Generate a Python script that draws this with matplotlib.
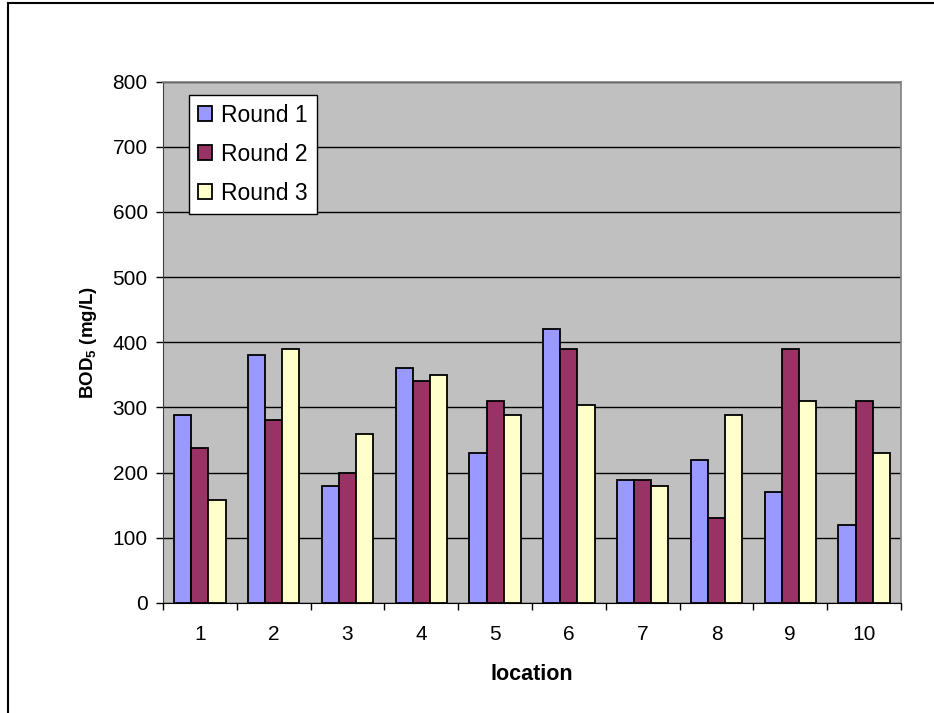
import matplotlib
matplotlib.use("Agg")
import matplotlib.pyplot as plt
import numpy as np
from matplotlib.lines import Line2D

locations = ["1", "2", "3", "4", "5", "6", "7", "8", "9", "10"]
series_names = ["Round 1", "Round 2", "Round 3"]
round1 = [288, 380, 180, 360, 230, 420, 188, 220, 170, 120]
round2 = [238, 280, 200, 340, 310, 390, 188, 130, 390, 310]
round3 = [158, 390, 260, 350, 288, 303, 180, 288, 310, 230]
colors = ["#9999FF", "#993366", "#FFFFCC"]
yticks = [0, 100, 200, 300, 400, 500, 600, 700, 800]

plt.rcParams['font.family'] = ['Liberation Sans', 'DejaVu Sans']

W, H = 934, 713
fig = plt.figure(figsize=(W / 100, H / 100), dpi=100)
ax = fig.add_axes([163 / W, 1 - 603 / H, (901 - 163) / W, (603 - 81.5) / H])
ax.set_facecolor("#C0C0C0")

x = np.arange(len(locations))
bw = 0.232
for i, (vals, name) in enumerate(zip([round1, round2, round3], series_names)):
    ax.bar(x + (i - 1) * bw, vals, width=bw, color=colors[i], edgecolor="black",
           linewidth=1.3, label=name, zorder=3)

ax.set_xlim(-0.5, len(locations) - 0.5)
ax.set_ylim(0, 800)
ax.set_yticks(yticks)
ax.set_yticklabels([str(v) for v in yticks], fontsize=15)
ax.yaxis.grid(True, color="black", linewidth=1.0, zorder=1)
ax.set_axisbelow(True)

# x ticks: labels at centres, tick marks at boundaries
ax.set_xticks(x)
ax.set_xticklabels(locations, fontsize=15)
ax.tick_params(axis="x", which="major", length=0, pad=16)
ax.set_xticks(np.arange(-0.5, len(locations), 1.0), minor=True)
ax.tick_params(axis="x", which="minor", length=5, width=1, direction="out", color="black")
ax.tick_params(axis="y", length=5, width=1, direction="out", pad=6)

for side in ["top", "right"]:
    ax.spines[side].set_color("#808080")
    ax.spines[side].set_linewidth(1.2)
ax.spines["left"].set_color("#404040")
ax.spines["bottom"].set_color("black")

ax.set_ylabel("BOD$_\\mathregular{5}$ (mg/L)", fontsize=13.5, fontweight="bold", labelpad=10)
ax.set_xlabel("location", fontsize=15.5, fontweight="bold", labelpad=14)

leg = ax.legend(loc="upper left", bbox_to_anchor=(0.035, 0.975), fontsize=16.5,
                frameon=True, fancybox=False, edgecolor="black", framealpha=1,
                handlelength=0.6, handleheight=0.6, handletextpad=0.4,
                labelspacing=0.7, borderpad=0.4, borderaxespad=0)
leg.get_frame().set_linewidth(1.0)

# figure border (left and top edges)
fig.add_artist(Line2D([7.5 / W, 7.5 / W], [0, 1 - 3 / H], transform=fig.transFigure,
                      color="black", linewidth=1.5))
fig.add_artist(Line2D([7.5 / W, 1], [1 - 3 / H, 1 - 3 / H], transform=fig.transFigure,
                      color="black", linewidth=1.5))

fig.savefig("out.png", dpi=100)
